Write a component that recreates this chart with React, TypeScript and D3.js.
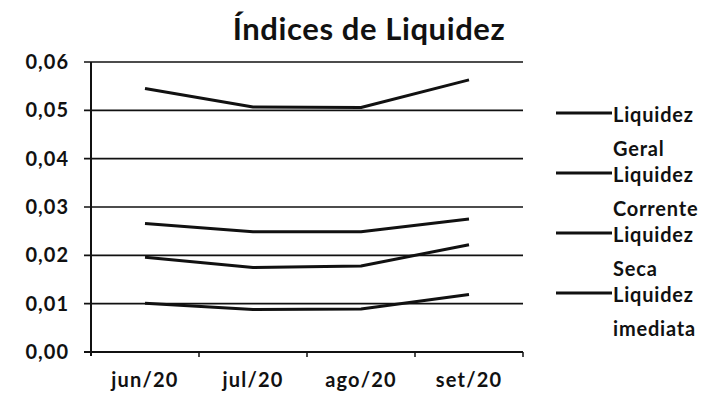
import React from "react";
import * as d3 from "d3";

const months = ["jun/20", "jul/20", "ago/20", "set/20"];
const liquidezGeral = [0.0545, 0.0507, 0.0506, 0.0563];
const liquidezCorrente = [0.0266, 0.0249, 0.0249, 0.0275];
const liquidezSeca = [0.0196, 0.0175, 0.0178, 0.0222];
const liquidezImediata = [0.0101, 0.0088, 0.0089, 0.0119];
const yTicks = [0, 0.01, 0.02, 0.03, 0.04, 0.05, 0.06];

const series = [
  { name: ["Liquidez", "Geral"], values: liquidezGeral },
  { name: ["Liquidez", "Corrente"], values: liquidezCorrente },
  { name: ["Liquidez", "Seca"], values: liquidezSeca },
  { name: ["Liquidez", "imediata"], values: liquidezImediata },
];

const font = "Lato, 'Open Sans', sans-serif";

const App: React.FC = () => {
  const width = 711;
  const height = 400;
  const margin = { left: 91, right: 188, top: 62, bottom: 48 };

  const x = d3
    .scaleBand<string>()
    .domain(months)
    .range([margin.left, width - margin.right]);
  const y = d3
    .scaleLinear()
    .domain([0, 0.06])
    .range([height - margin.bottom, margin.top]);

  const line = d3
    .line<number>()
    .x((_, i) => (x(months[i]) || 0) + x.bandwidth() / 2)
    .y((d) => y(d));

  const fmt = (v: number) => v.toFixed(2).replace(".", ",");
  const [x0, x1] = x.range();

  return (
    <div style={{ margin: -8 }}>
      <svg width={width} height={height} style={{ display: "block", background: "#fff" }}>
        <text x={369} y={40} textAnchor="middle" fontFamily={font} fontWeight="bold" fontSize={31} letterSpacing={0.6} fill="#111">
          Índices de Liquidez
        </text>

        {yTicks.map((t) => (
          <g key={t}>
            <line x1={x0 - 7} x2={x1} y1={y(t)} y2={y(t)} stroke="#111" strokeWidth={t === 0 ? 2 : 1.6} />
            <text x={x0 - 22} y={y(t) + 7} textAnchor="end" fontFamily={font} fontWeight="bold" fontSize={20} letterSpacing={1} fill="#111">
              {fmt(t)}
            </text>
          </g>
        ))}
        <line x1={x0} x2={x0} y1={y(0.06)} y2={y(0) + 4} stroke="#111" strokeWidth={2} />
        {months.map((m, i) =>
          i > 0 ? (
            <line key={"t" + m} x1={x(m) || 0} x2={x(m) || 0} y1={y(0)} y2={y(0) + 5} stroke="#111" strokeWidth={1.5} />
          ) : null
        )}
        <line x1={x1} x2={x1} y1={y(0)} y2={y(0) + 5} stroke="#111" strokeWidth={1.5} />

        {months.map((m) => (
          <text
            key={m}
            x={(x(m) || 0) + x.bandwidth() / 2}
            y={y(0) + 35}
            textAnchor="middle"
            fontFamily={font}
            fontWeight="bold"
            fontSize={20}
            letterSpacing={1.2}
            fill="#111"
          >
            {m}
          </text>
        ))}

        {series.map((s) => (
          <path key={s.name[1]} d={line(s.values) || ""} fill="none" stroke="#111" strokeWidth={3} strokeLinejoin="round" />
        ))}

        {series.map((s, i) => {
          const ly = 113 + i * 60;
          return (
            <g key={"l" + s.name[1]}>
              <line x1={556} x2={612} y1={ly} y2={ly} stroke="#111" strokeWidth={3} />
              <text x={613} y={ly + 9} fontFamily={font} fontWeight="bold" fontSize={20} letterSpacing={0.8} fill="#111">
                {s.name[0]}
              </text>
              <text x={613} y={ly + 43} fontFamily={font} fontWeight="bold" fontSize={20} letterSpacing={0.8} fill="#111">
                {s.name[1]}
              </text>
            </g>
          );
        })}
      </svg>
    </div>
  );
};

export default App;
